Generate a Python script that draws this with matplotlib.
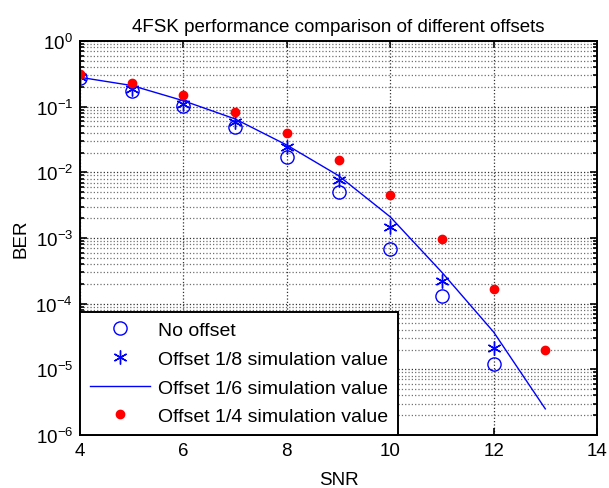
import matplotlib
matplotlib.use("Agg")
import matplotlib.pyplot as plt
import numpy as np

snr = [4, 5, 6, 7, 8, 9, 10, 11, 12]
snr_line = [4, 5, 6, 7, 8, 9, 10, 11, 12, 13]
snr_red = [4, 5, 6, 7, 8, 9, 10, 11, 12, 13]

ber_no_offset = [0.27, 0.173, 0.102, 0.049, 0.017, 0.0051, 6.8e-4, 1.3e-4, 1.2e-5]
ber_offset_18 = [0.28, 0.185, 0.11, 0.058, 0.024, 0.0077, 1.47e-3, 2.2e-4, 2.1e-5]
ber_offset_16 = [0.28, 0.21, 0.123, 0.065, 0.026, 0.0089, 2.1e-3, 3.0e-4, 3.7e-5, 2.5e-6]
ber_offset_14 = [0.31, 0.23, 0.15, 0.084, 0.040, 0.0155, 0.0045, 9.7e-4, 1.7e-4, 2.0e-5]

labels = ["No offset", "Offset 1/8 simulation value",
          "Offset 1/6 simulation value", "Offset 1/4 simulation value"]

plt.rcParams['font.family'] = ['Liberation Sans', 'DejaVu Sans']
plt.rcParams['mathtext.fontset'] = 'custom'
plt.rcParams['mathtext.rm'] = 'Liberation Sans'
plt.rcParams['mathtext.it'] = 'Liberation Sans'

fig = plt.figure(figsize=(6.09, 4.89), dpi=100)
ax = fig.add_axes([0.1314, 0.1084, 0.8489, 0.8057])

ax.semilogy(snr, ber_no_offset, linestyle='none', marker='o', markersize=9.5,
            markerfacecolor='none', markeredgecolor='#0000ff', markeredgewidth=1.0,
            label=labels[0])
ax.semilogy(snr, ber_offset_18, linestyle='none', marker=(6, 2, 0), markersize=10,
            color='#0000ff', markeredgewidth=1.0, label=labels[1])
ax.semilogy(snr_line, ber_offset_16, linestyle='-', color='#0000ff', linewidth=1.0,
            label=labels[2])
ax.semilogy(snr_red, ber_offset_14, linestyle='none', marker='o', markersize=6,
            markerfacecolor='#ff0000', markeredgecolor='#ff0000', label=labels[3])

ax.set_xlim(4, 14)
ax.set_ylim(1e-6, 1e0)
ax.set_xticks([4, 6, 8, 10, 12, 14])
ax.set_yticks([1e-6, 1e-5, 1e-4, 1e-3, 1e-2, 1e-1, 1e0])

ax.grid(True, which='major', axis='both', color='#303030', linestyle=':', linewidth=0.9)
ax.grid(True, which='minor', axis='y', color='#707070', linestyle=':', linewidth=0.9)
ax.tick_params(which='both', direction='in', top=True, right=True, labelsize=13.5, width=1.2)
ax.tick_params(which='major', length=5, pad=5)
ax.tick_params(which='minor', length=3)
for s in ax.spines.values():
    s.set_linewidth(1.4)

ax.set_title("4FSK performance comparison of different offsets", fontsize=13.5, pad=7)
ax.set_xlabel("SNR", fontsize=13.5, labelpad=9)
ax.set_ylabel("BER", fontsize=13.5, labelpad=4)

leg = ax.legend(loc='lower left', bbox_to_anchor=(0, 0), borderaxespad=0.0,
                fontsize=14, fancybox=False, framealpha=1, edgecolor='black',
                handlelength=3.1, handletextpad=0.4, labelspacing=0.57,
                borderpad=0.5)
leg.get_frame().set_linewidth(1.4)

fig.savefig("out.png", dpi=100)
